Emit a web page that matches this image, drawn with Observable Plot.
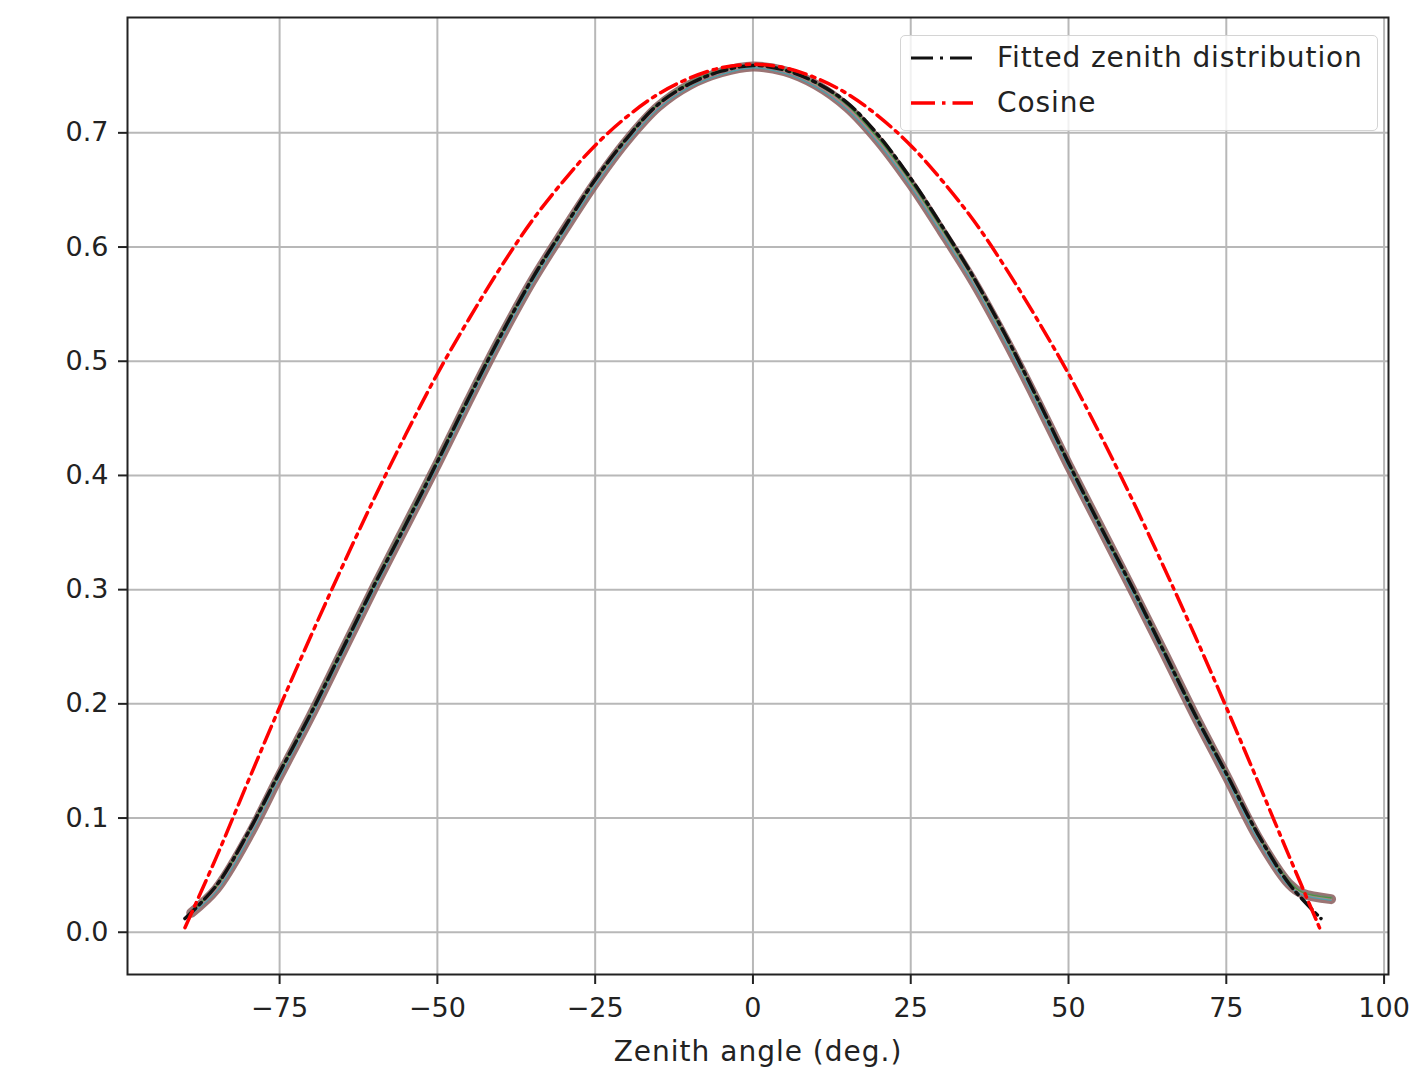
<!DOCTYPE html>
<html>
<head>
<meta charset="utf-8">
<script src="https://cdn.jsdelivr.net/npm/d3@7"></script>
<script src="https://cdn.jsdelivr.net/npm/@observablehq/plot@0.6"></script>
<style>
  html, body { margin: 0; padding: 0; background: white; }
  #wrap { position: relative; width: 1415px; height: 1070px; font-family: "DejaVu Sans", sans-serif; }
  #legend { position: absolute; left: 900px; top: 35px; width: 478px; height: 96px; box-sizing: border-box;
            border: 1.5px solid #d4d4d4; border-radius: 5px; background: rgba(255,255,255,0.8);
            font-family: "DejaVu Sans", sans-serif; font-size: 28px; color: #222; letter-spacing: 0.9px; }
  .entry { position: absolute; left: 0; height: 40px; width: 100%; }
  .entry svg { position: absolute; left: 8px; top: 0; }
  .entry span { position: absolute; left: 96px; top: 50%; transform: translateY(-52%); white-space: nowrap; }
</style>
</head>
<body>
<div id="wrap">
  <div id="chart"></div>
  <div id="legend"></div>
</div>
<script>
// ---- Data ----
const xTicks = [-75, -50, -25, 0, 25, 50, 75, 100];
const yTicks = [0, 0.1, 0.2, 0.3, 0.4, 0.5, 0.6, 0.7];
const xLabel = "Zenith angle (deg.)";
const legendLabels = ["Fitted zenith distribution", "Cosine"];
const legendColors = ["#111111", "#ff0000"];

// measured histogram band (several overlapping series)
const bandX = [-89, -85, -80, -75, -70, -65, -60, -55, -50, -45, -40, -35, -30, -25, -20, -15, -10, -5, 0,
               5, 10, 15, 20, 25, 30, 35, 40, 45, 50, 55, 60, 65, 70, 75, 80, 85, 87, 91.6];
const bandA = [0.017, 0.038, 0.083, 0.137, 0.190, 0.246, 0.302, 0.356, 0.410, 0.466, 0.520, 0.570, 0.614, 0.656, 0.693, 0.723, 0.742, 0.753, 0.758,
               0.754, 0.742, 0.722, 0.692, 0.655, 0.613, 0.569, 0.519, 0.465, 0.409, 0.355, 0.301, 0.246, 0.190, 0.137, 0.083, 0.042, 0.034, 0.029];
const bandB = [0.018, 0.040, 0.086, 0.140, 0.193, 0.249, 0.305, 0.359, 0.413, 0.469, 0.523, 0.572, 0.616, 0.658, 0.695, 0.725, 0.744, 0.755, 0.759,
               0.755, 0.743, 0.724, 0.694, 0.657, 0.615, 0.571, 0.521, 0.467, 0.411, 0.357, 0.303, 0.248, 0.192, 0.139, 0.085, 0.044, 0.035, 0.030];
const bandC = [0.016, 0.036, 0.081, 0.135, 0.188, 0.244, 0.300, 0.354, 0.408, 0.464, 0.518, 0.568, 0.612, 0.654, 0.691, 0.721, 0.740, 0.751, 0.757,
               0.752, 0.740, 0.720, 0.690, 0.653, 0.611, 0.567, 0.517, 0.463, 0.407, 0.353, 0.299, 0.244, 0.188, 0.135, 0.081, 0.040, 0.033, 0.028];

// fitted zenith distribution (black dash-dot)
const fitX = [-90, -85, -80, -75, -70, -65, -60, -55, -50, -45, -40, -35, -30, -25, -20, -15, -10, -5, 0,
              5, 10, 15, 20, 25, 30, 35, 40, 45, 50, 55, 60, 65, 70, 75, 80, 85, 90];
const fitY = [0.012, 0.041, 0.087, 0.140, 0.192, 0.248, 0.304, 0.357, 0.412, 0.468, 0.522, 0.572, 0.616, 0.659, 0.695, 0.725, 0.743, 0.754, 0.759,
              0.755, 0.744, 0.726, 0.697, 0.660, 0.618, 0.573, 0.523, 0.468, 0.411, 0.356, 0.303, 0.247, 0.191, 0.139, 0.086, 0.042, 0.012];

// cosine (red dash-dot)
const cosX = [-90, -85, -80, -75, -70, -65, -60, -55, -50, -45, -40, -35, -30, -25, -20, -15, -10, -5, 0,
              5, 10, 15, 20, 25, 30, 35, 40, 45, 50, 55, 60, 65, 70, 75, 80, 85, 90];
const cosY = [0.004, 0.066, 0.132, 0.197, 0.260, 0.321, 0.380, 0.436, 0.489, 0.537, 0.582, 0.623, 0.658, 0.689, 0.714, 0.734, 0.748, 0.757, 0.760,
              0.757, 0.748, 0.734, 0.714, 0.689, 0.658, 0.623, 0.582, 0.537, 0.489, 0.436, 0.380, 0.321, 0.260, 0.197, 0.132, 0.066, 0.001];

// ---- Build ----
const pts = (xs, ys) => xs.map((x, i) => ({x, y: ys[i]}));
const fmtX = d => d < 0 ? "\u2212" + (-d) : String(d);

const chart = Plot.plot({
  width: 1415, height: 1070,
  marginLeft: 127, marginRight: 27, marginTop: 17, marginBottom: 96,
  style: {fontFamily: "DejaVu Sans, sans-serif", fontSize: "27px", color: "#222", background: "white", overflow: "visible"},
  x: {domain: [-99.1, 100.7]},
  y: {domain: [-0.037, 0.801]},
  marks: [
    Plot.gridX(xTicks, {stroke: "#b8b8b8", strokeOpacity: 1, strokeWidth: 2}),
    Plot.gridY(yTicks, {stroke: "#b8b8b8", strokeOpacity: 1, strokeWidth: 2}),
    Plot.line(pts(bandX, bandA), {x: "x", y: "y", stroke: "#8a5c5c", strokeWidth: 10, strokeOpacity: 0.85, curve: "catmull-rom"}),
    Plot.line(pts(bandX, bandB), {x: "x", y: "y", stroke: "#7a8070", strokeWidth: 4, strokeOpacity: 0.8, curve: "catmull-rom"}),
    Plot.line(pts(bandX, bandA), {x: "x", y: "y", stroke: "#c98a9a", strokeWidth: 2, strokeOpacity: 0.6, curve: "catmull-rom"}),
    Plot.line(pts(bandX, bandB), {x: "x", y: "y", stroke: "#2ca02c", strokeWidth: 1.3, strokeOpacity: 0.7, curve: "catmull-rom"}),
    Plot.line(pts(bandX, bandC), {x: "x", y: "y", stroke: "#17becf", strokeWidth: 1.3, strokeOpacity: 0.6, curve: "catmull-rom"}),
    Plot.line(pts(fitX, fitY), {x: "x", y: "y", stroke: "#111", strokeWidth: 3.5, strokeDasharray: "15,5,3,5", curve: "catmull-rom"}),
    Plot.line(pts(cosX, cosY), {x: "x", y: "y", stroke: "#ff0000", strokeWidth: 3.5, strokeDasharray: "18,6,3.5,6", curve: "catmull-rom"}),
    Plot.frame({stroke: "#222", strokeWidth: 2}),
    Plot.axisX(xTicks, {tickSize: 10, tickPadding: 13, tickFormat: fmtX, label: null, fontSize: 27, strokeWidth: 2}),
    Plot.axisY(yTicks, {tickSize: 9, tickPadding: 10, tickFormat: d3.format(".1f"), label: null, fontSize: 27, strokeWidth: 2}),
    Plot.text([xLabel], {text: d => d, frameAnchor: "bottom", dy: 78, fontSize: 28, fill: "#222", lineAnchor: "middle", style: "letter-spacing:1px"})
  ]
});
document.getElementById("chart").appendChild(chart);
chart.querySelectorAll("text").forEach(t => { if (t.textContent === xLabel) t.setAttribute("letter-spacing", "1px"); });

// legend
const legend = document.getElementById("legend");
legendLabels.forEach((label, i) => {
  const e = document.createElement("div");
  e.className = "entry";
  e.style.top = (i === 0 ? 2 : 47) + "px";
  const dash = i === 0 ? "22,7,3,7" : "24,7,3.5,7";
  const w = i === 0 ? 3 : 3.5;
  e.innerHTML = `<svg width="66" height="40"><line x1="2" y1="20" x2="64" y2="20" stroke="${legendColors[i]}" stroke-width="${w}" stroke-dasharray="${dash}"/></svg><span>${label}</span>`;
  legend.appendChild(e);
});
</script>
</body>
</html>
